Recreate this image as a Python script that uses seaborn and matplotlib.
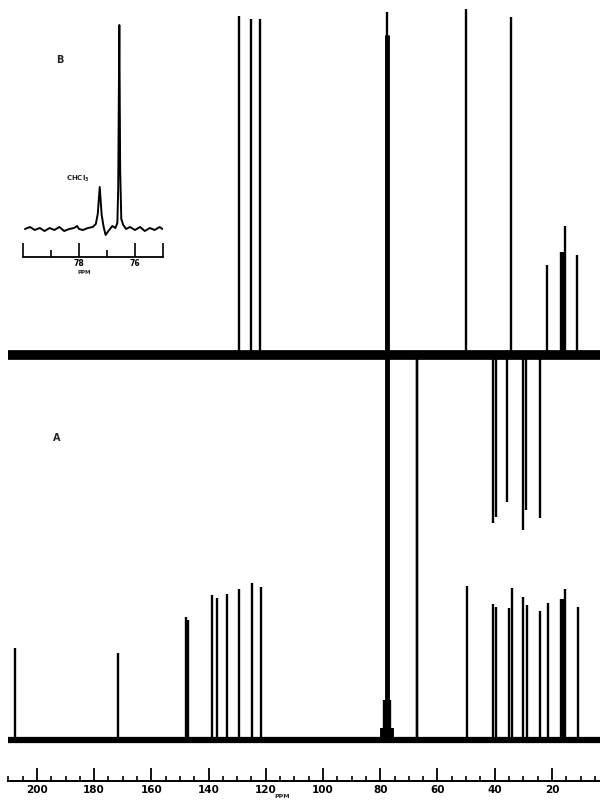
import matplotlib
matplotlib.use("Agg")
import matplotlib.pyplot as plt
import seaborn as sns
from matplotlib.ticker import FixedLocator

# --- Spectrum A (bottom trace): ppm and peak height ---
a_ppm = [207.8, 171.7, 148.0, 147.3, 138.8, 137.1, 133.6, 129.4, 124.9, 121.7,
         77.7, 67.1, 49.7, 40.6, 39.6, 35.0, 34.0, 30.1, 28.7, 24.2, 21.4,
         17.0, 16.4, 15.8, 15.4, 10.9]
a_height = [92, 87, 123, 120, 145, 142, 146, 151, 157, 153,
            705, 380, 154, 136, 133, 132, 152, 143, 135, 129, 137,
            141, 141, 141, 151, 133]

# --- DEPT trace (top): positive CH / CH3, negative CH2 ---
dept_ppm = [129.5, 125.0, 122.0, 77.7, 67.1, 50.2, 40.6, 39.6, 35.6, 34.3,
            30.0, 29.2, 24.3, 21.6, 16.9, 16.4, 15.9, 15.3, 11.1]
dept_height = [339, 336, 336, 343, -385, 346, -168, -162, -147, 338,
               -175, -155, -163, 90, 103, 103, 103, 129, 100]

# --- Inset B: expansion near CDCl3 ---
inset_ppm = [79.93, 79.75, 79.58, 79.40, 79.23, 79.05, 78.88, 78.70, 78.53, 78.35,
             78.18, 78.07, 78.00, 77.86, 77.68, 77.51, 77.40, 77.33, 77.26, 77.19,
             77.12, 77.05, 76.95, 76.81, 76.70, 76.63, 76.60, 76.56, 76.53, 76.49,
             76.42, 76.32, 76.18, 76.00, 75.82, 75.65, 75.47, 75.30, 75.12, 75.02]
inset_int = [0, 2, -1, 1, -2, 1, -1, 2, -2, 0,
             1, 3, 0, -1, 1, 2, 5, 15, 42, 14,
             2, -6, -2, 3, 1, 6, 40, 204, 60, 10,
             4, 0, 2, -1, 2, -2, 1, -1, 2, 0]

axis_labels = [200, 180, 160, 140, 120, 100, 80, 60, 40, 20]
inset_labels = [78, 76]

sns.set_theme(style="white")
plt.rcParams['font.family'] = ['DejaVu Sans']
plt.rcParams['font.weight'] = 'bold'

fig = plt.figure(figsize=(6, 8), dpi=100)

# --- Main spectra ---
ax = fig.add_axes([8 / 600, 19 / 800, 592 / 600, 781 / 800])
base_a = 41
base_dept = 426

# noisy baselines drawn as thick bands
sns.lineplot(x=[210.1, 3.2], y=[base_dept, base_dept], ax=ax, color='black',
             linewidth=7, solid_capstyle='butt')
sns.lineplot(x=[210.1, 3.2], y=[base_a, base_a], ax=ax, color='black',
             linewidth=4.5, solid_capstyle='butt')

ax.vlines(a_ppm, base_a, [base_a + h for h in a_height], color='black', linewidth=1.7)
ax.vlines(dept_ppm, base_dept, [base_dept + h for h in dept_height], color='black', linewidth=1.7)
# solvent line body and broadened foot
ax.vlines([77.7], base_a, base_a + 705, color='black', linewidth=3.5)
ax.vlines([77.7], base_a, base_a + 40, color='black', linewidth=6)
ax.vlines([77.7], base_a, base_a + 12, color='black', linewidth=10)

ax.set_xlim(210.1, 3.2)
ax.set_ylim(0, 781)
for s in ['top', 'left', 'right']:
    ax.spines[s].set_visible(False)
ax.spines['bottom'].set_color('black')
ax.spines['bottom'].set_linewidth(1.4)
ax.set_yticks([])
ax.xaxis.set_major_locator(FixedLocator(axis_labels))
ax.xaxis.set_minor_locator(FixedLocator([v for v in range(5, 211, 5) if v not in axis_labels]))
ax.set_xticklabels([str(v) for v in axis_labels])
ax.tick_params(axis='x', which='major', direction='in', length=9.5, width=1.3,
               pad=3, labelsize=7.5, colors='black', bottom=True)
ax.tick_params(axis='x', which='minor', direction='in', length=3.5, width=1.2,
               colors='black', bottom=True)
ax.set_xlabel('')

fig.text(282 / 600, 1 - 797 / 800, 'PPM', fontsize=4.5, fontweight='bold',
         ha='center', va='center')
fig.text(57 / 600, 1 - 438 / 800, 'A', fontsize=7, fontweight='bold',
         ha='center', va='center')
fig.text(60 / 600, 1 - 60 / 800, 'B', fontsize=7, fontweight='bold',
         ha='center', va='center')

# --- Inset B ---
axb = fig.add_axes([23 / 600, (800 - 257) / 800, 140 / 600, 237 / 800])
axb.patch.set_alpha(0)
sns.lineplot(x=inset_ppm, y=inset_int, ax=axb, color='black', linewidth=1.4)
axb.set_xlim(80, 75)
axb.set_ylim(-28, 209)
for s in ['top', 'left', 'right']:
    axb.spines[s].set_visible(False)
axb.spines['bottom'].set_color('black')
axb.spines['bottom'].set_linewidth(1.3)
axb.set_yticks([])
axb.xaxis.set_major_locator(FixedLocator([80, 78, 76, 75]))
axb.xaxis.set_minor_locator(FixedLocator([79, 77]))
axb.set_xticklabels(['', str(inset_labels[0]), str(inset_labels[1]), ''])
axb.tick_params(axis='x', which='major', direction='in', length=10, width=1.2,
                pad=1.5, labelsize=5.5, colors='black', bottom=True)
axb.tick_params(axis='x', which='minor', direction='in', length=5, width=1.2,
                colors='black', bottom=True)
axb.set_xlabel('')
axb.text(78.03, 50, 'CHCl$_3$', fontsize=5, fontweight='bold', ha='center', va='center')
fig.text(84 / 600, 1 - 272 / 800, 'PPM', fontsize=4, fontweight='bold',
         ha='center', va='center')

fig.savefig('out.png', dpi=100)
